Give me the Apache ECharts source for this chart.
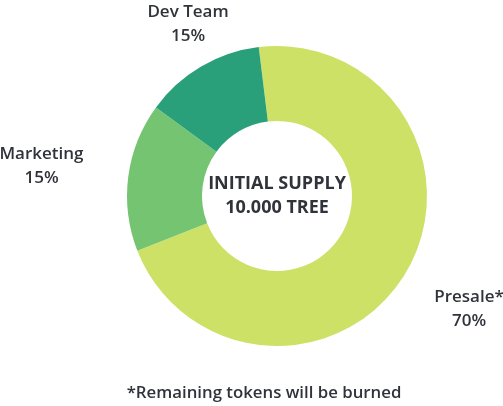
<!DOCTYPE html>
<html>
<head>
<meta charset="utf-8">
<script src="https://cdn.jsdelivr.net/npm/echarts@6/dist/echarts.min.js"></script>
<style>
html,body{margin:0;padding:0;background:#fff;}
#c{width:503px;height:406px;}
</style>
</head>
<body>
<div id="c"></div>
<script>
// Data
const categories = ['Presale*', 'Marketing', 'Dev Team'];
const values = [71, 16, 13];              // slice sizes as drawn
const percentLabels = ['70%', '15%', '15%']; // label texts as printed
const centerText = ['INITIAL SUPPLY', '10.000 TREE'];
const footnote = '*Remaining tokens will be burned';

const colors = ['#cde167', '#75c472', '#2aa07a'];
const textColor = '#30333a';
const FONT = '"Open Sans", sans-serif';
// label centre positions (layout only)
const labelCenters = [[469, 309], [41.5, 166], [188, 24]];

const chart = echarts.init(document.getElementById('c'), null, {renderer: 'canvas'});
chart.setOption({
  animation: false,
  color: colors,
  graphic: [{
    type: 'text',
    x: 264,
    y: 393,
    style: {
      text: footnote,
      align: 'center',
      verticalAlign: 'middle',
      font: '600 16.8px "Open Sans", sans-serif',
      fill: textColor
    }
  }],
  series: [
    {
      type: 'pie',
      center: [277, 196],
      radius: [75, 150],
      startAngle: 97,
      clockwise: true,
      avoidLabelOverlap: false,
      silent: true,
      itemStyle: {borderWidth: 0},
      label: {
        show: true,
        position: 'outside',
        formatter: p => p.name + '\n' + percentLabels[p.dataIndex],
        fontFamily: FONT,
        fontSize: 17,
        fontWeight: 600,
        lineHeight: 23.5,
        color: textColor
      },
      labelLine: {show: false},
      labelLayout: p => ({
        x: labelCenters[p.dataIndex][0],
        y: labelCenters[p.dataIndex][1],
        align: 'center',
        verticalAlign: 'middle'
      }),
      data: categories.map((c, i) => ({name: c, value: values[i]}))
    },
    {
      type: 'pie',
      center: [277, 196],
      radius: [0, 1],
      silent: true,
      itemStyle: {color: 'rgba(0,0,0,0)'},
      label: {
        show: true,
        position: 'center',
        formatter: () => centerText.join('\n'),
        fontFamily: FONT,
        fontSize: 18,
        fontWeight: 700,
        lineHeight: 24,
        color: textColor
      },
      labelLine: {show: false},
      data: [{name: 'center', value: 1}]
    }
  ]
});
</script>
</body>
</html>
